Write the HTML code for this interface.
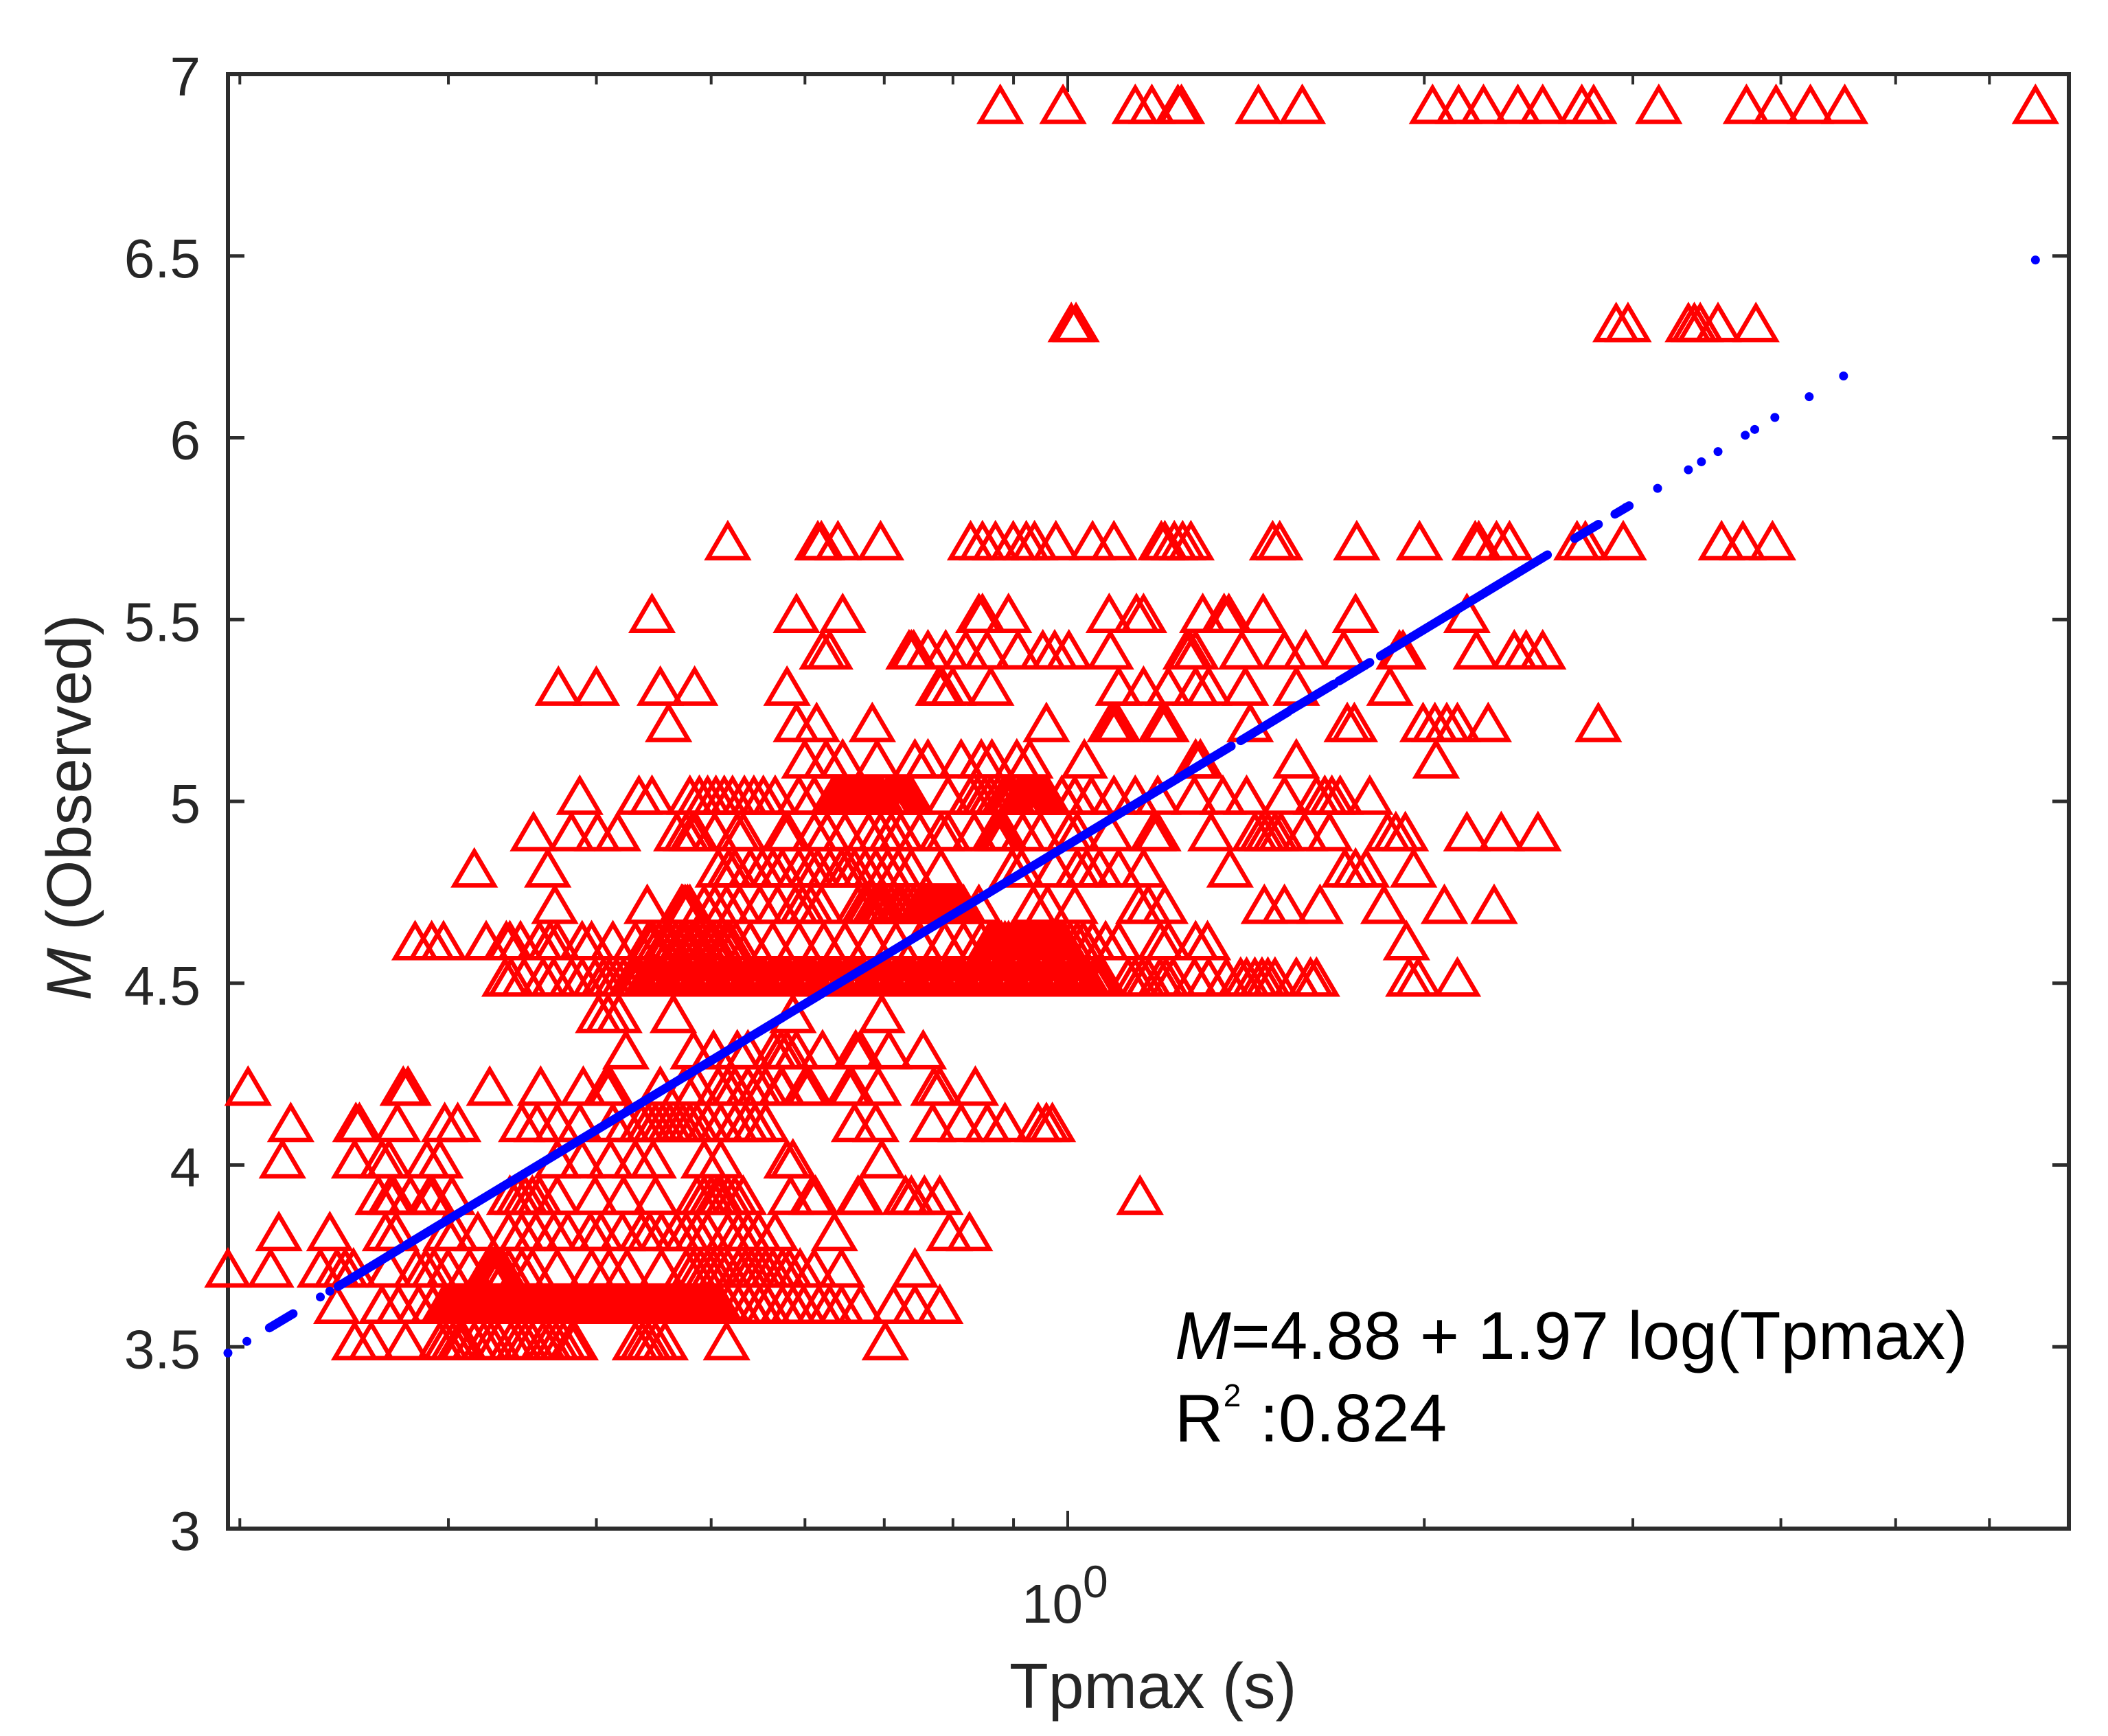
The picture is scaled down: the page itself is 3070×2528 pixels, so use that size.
<!DOCTYPE html>
<html lang="en">
<head>
<meta charset="utf-8">
<title>M observed vs Tpmax</title>
<style>
  html,body{margin:0;padding:0;background:#fff;}
  svg{display:block;}
  text{font-family:"Liberation Sans",Arial,sans-serif;}
</style>
</head>
<body>
<svg id="chart" xmlns="http://www.w3.org/2000/svg" width="3070" height="2528" viewBox="0 0 3070 2528">
  <rect x="0" y="0" width="3070" height="2528" fill="#ffffff"/>
  <g id="axes"></g>
  <g id="observed"></g>
  <g id="fit"></g>
  <text x="1488" y="2363" font-size="80" fill="#262626">10<tspan dy="-37" font-size="66">0</tspan></text>
  <text x="1470" y="2487" font-size="93" fill="#262626">Tpmax (s)</text>
  <text x="132" y="1457" font-size="92" fill="#262626" transform="rotate(-90 132 1457)"><tspan font-style="italic">M</tspan> (Observed)</text>
  <text x="1711" y="1979" font-size="98" fill="#000000"><tspan font-style="italic">M</tspan>=4.88 + 1.97 log(Tpmax)</text>
  <text x="1711" y="2099" font-size="98" fill="#000000">R<tspan dy="-51" font-size="46">2</tspan><tspan dy="51"> :0.824</tspan></text>
</svg>
<script>
// Axis tick values
const yTicks = [3, 3.5, 4, 4.5, 5, 5.5, 6, 6.5, 7];
const yTickLabels = ['3', '3.5', '4', '4.5', '5', '5.5', '6', '6.5', '7'];
const xMinorTicks = [0.2, 0.3, 0.4, 0.5, 0.6, 0.7, 0.8, 0.9, 2, 3, 4, 5, 6];
const xMajorTicks = [1];

// Observed magnitudes; each has a matching list of log10(Tpmax) readings
const row69 = [-.057,-.004,.057,.071,.093,.096,.161,.198,.308,.330,.351,.380,.401,.434,.444,.499,.573,.598,.627,.656,.817];
const row63 = [.003,.007,.463,.473,.524,.529,.534,.549,.581];
const row57 = [-.287,-.211,-.208,-.194,-.158,-.082,-.072,-.061,-.046,-.035,-.028,-.010,.021,.039,.079,.082,.090,.097,.104,.173,.179,.244,.297,.344,.347,.362,.373,.430,.437,.469,.552,.570,.595];
const row55 = [-.351,-.229,-.190,-.075,-.072,-.050,.035,.058,.064,.114,.132,.136,.165,.243,.337];
const row54 = [-.207,-.201,-.134,-.132,-.130,-.118,-.103,-.086,-.068,-.042,-.021,-.011,.001,.036,.100,.103,.108,.147,.183,.201,.233,.280,.283,.345,.377,.387,.401];
const row53 = [-.430,-.398,-.344,-.315,-.237,-.109,-.106,-.097,-.065,.043,.064,.085,.108,.119,.150,.193,.272];
const row52 = [-.337,-.229,-.212,-.165,-.018,.036,.039,.042,.079,.083,.154,.236,.242,.300,.310,.320,.329,.355,.448];
const row51 = [-.222,-.204,-.190,-.161,-.129,-.118,-.090,-.073,-.064,-.043,-.032,.014,.108,.112,.193,.311];
const row50 = [-.412,-.362,-.351,-.319,-.311,-.304,-.297,-.290,-.283,-.273,-.265,-.257,-.247,-.227,-.214,-.198,-.194,-.191,-.187,-.183,-.179,-.176,-.172,-.168,-.164,-.160,-.157,-.152,-.148,-.144,-.140,-.136,-.132,-.101,-.082,-.076,-.070,-.065,-.059,-.054,-.050,-.046,-.041,-.037,-.033,-.029,-.025,-.021,-.017,-.005,.006,.020,.039,.057,.076,.107,.131,.151,.183,.210,.217,.223,.230,.255];
const row49 = [-.451,-.419,-.397,-.380,-.330,-.322,-.317,-.314,-.298,-.279,-.274,-.239,-.236,-.214,-.203,-.188,-.168,-.158,-.149,-.141,-.125,-.107,-.101,-.079,-.062,-.059,-.056,-.053,-.038,-.023,.001,.008,.036,.072,.076,.121,.158,.164,.169,.175,.180,.200,.221,.270,.277,.285,.337,.366,.397];
const row48 = [-.501,-.439,-.295,-.286,-.281,-.268,-.258,-.249,-.241,-.227,-.217,-.211,-.201,-.191,-.186,-.180,-.171,-.162,-.152,-.143,-.132,-.107,-.047,-.039,-.011,.008,.016,.027,.043,.064,.137,.234,.243,.252,.292];
const row47 = [-.433,-.355,-.326,-.325,-.323,-.321,-.319,-.307,-.298,-.288,-.277,-.260,-.245,-.230,-.224,-.217,-.208,-.177,-.172,-.168,-.163,-.161,-.158,-.154,-.149,-.144,-.140,-.135,-.130,-.125,-.122,-.119,-.116,-.113,-.110,-.107,-.104,-.101,-.098,-.094,-.091,-.088,-.075,-.029,-.017,.006,.060,.068,.082,.166,.183,.213,.267,.318,.360];
const row46 = [-.551,-.537,-.527,-.491,-.474,-.471,-.462,-.446,-.437,-.431,-.410,-.402,-.384,-.365,-.354,-.350,-.345,-.340,-.336,-.331,-.326,-.322,-.317,-.313,-.308,-.303,-.299,-.294,-.289,-.285,-.280,-.268,-.249,-.227,-.206,-.188,-.166,-.145,-.125,-.104,-.088,-.073,-.066,-.062,-.059,-.056,-.053,-.050,-.047,-.044,-.040,-.036,-.032,-.028,-.024,-.020,-.017,-.014,-.011,-.008,-.006,-.003,.002,.008,.013,.021,.032,.043,.078,.085,.108,.118,.286];
const row45 = [-.475,-.470,-.459,-.443,-.434,-.419,-.410,-.399,-.392,-.387,-.381,-.375,-.369,-.365,-.361,-.356,-.352,-.348,-.344,-.340,-.335,-.331,-.327,-.323,-.319,-.314,-.310,-.306,-.302,-.298,-.293,-.289,-.285,-.281,-.277,-.272,-.268,-.264,-.260,-.256,-.251,-.247,-.243,-.239,-.235,-.230,-.226,-.222,-.218,-.214,-.209,-.205,-.201,-.197,-.193,-.188,-.184,-.180,-.176,-.172,-.167,-.163,-.159,-.155,-.151,-.146,-.142,-.138,-.134,-.130,-.125,-.121,-.117,-.113,-.109,-.104,-.100,-.096,-.092,-.088,-.083,-.079,-.075,-.071,-.067,-.062,-.058,-.054,-.050,-.046,-.041,-.037,-.033,-.029,-.025,-.020,-.016,-.012,-.008,-.004,.001,.005,.009,.013,.017,.022,.026,.030,.051,.057,.063,.068,.078,.083,.089,.107,.119,.134,.146,.151,.158,.164,.169,.175,.193,.205,.210,.288,.296,.329];
const row44 = [-.396,-.388,-.379,-.333,-.232,-.157];
const row43 = [-.373,-.316,-.299,-.279,-.270,-.248,-.242,-.237,-.229,-.207,-.179,-.175,-.151,-.122];
const row42 = [-.692,-.561,-.557,-.488,-.445,-.409,-.390,-.386,-.344,-.324,-.313,-.295,-.287,-.281,-.270,-.261,-.255,-.242,-.241,-.222,-.218,-.185,-.182,-.160,-.113,-.108,-.078];
const row41 = [-.656,-.601,-.598,-.566,-.526,-.515,-.461,-.448,-.431,-.412,-.384,-.372,-.360,-.354,-.348,-.342,-.336,-.330,-.325,-.319,-.313,-.304,-.293,-.281,-.272,-.264,-.255,-.180,-.162,-.114,-.090,-.068,-.053,-.025,-.018,-.013];
const row40 = [-.663,-.602,-.579,-.573,-.541,-.530,-.431,-.410,-.386,-.365,-.350,-.307,-.293,-.237,-.232,-.157];
const row39 = [-.582,-.572,-.569,-.555,-.539,-.536,-.520,-.471,-.464,-.458,-.452,-.446,-.431,-.399,-.375,-.348,-.313,-.307,-.301,-.296,-.293,-.287,-.281,-.274,-.234,-.216,-.213,-.177,-.175,-.137,-.132,-.121,-.108,.061];
const row38 = [-.666,-.623,-.576,-.567,-.525,-.517,-.498,-.472,-.461,-.449,-.434,-.422,-.403,-.394,-.376,-.360,-.353,-.343,-.330,-.322,-.313,-.304,-.287,-.278,-.270,-.261,-.247,-.197,-.100,-.083];
const row37 = [-.709,-.673,-.631,-.617,-.610,-.603,-.573,-.550,-.542,-.535,-.523,-.505,-.490,-.487,-.483,-.481,-.477,-.472,-.461,-.452,-.431,-.402,-.387,-.372,-.343,-.322,-.316,-.310,-.304,-.299,-.293,-.287,-.278,-.272,-.267,-.261,-.255,-.249,-.241,-.235,-.226,-.214,-.191,-.129];
const row36 = [-.617,-.579,-.565,-.548,-.536,-.527,-.525,-.521,-.517,-.513,-.509,-.505,-.501,-.497,-.493,-.491,-.487,-.483,-.479,-.475,-.471,-.467,-.463,-.459,-.455,-.451,-.447,-.443,-.439,-.435,-.431,-.427,-.423,-.419,-.415,-.411,-.407,-.404,-.402,-.399,-.397,-.394,-.392,-.389,-.387,-.384,-.381,-.378,-.376,-.373,-.370,-.367,-.365,-.362,-.359,-.356,-.354,-.351,-.348,-.345,-.342,-.339,-.337,-.334,-.332,-.329,-.326,-.323,-.320,-.317,-.315,-.312,-.310,-.307,-.304,-.301,-.299,-.296,-.293,-.287,-.278,-.269,-.260,-.253,-.241,-.232,-.223,-.210,-.201,-.191,-.175,-.147,-.129,-.108];
const row35 = [-.602,-.588,-.559,-.530,-.525,-.519,-.514,-.510,-.501,-.493,-.487,-.481,-.470,-.464,-.458,-.452,-.443,-.438,-.432,-.426,-.419,-.416,-.365,-.359,-.354,-.348,-.340,-.288,-.154];

const rowMagnitudes = [6.9, 6.3, 5.7, 5.5, 5.4, 5.3, 5.2, 5.1, 5.0, 4.9, 4.8, 4.7, 4.6, 4.5, 4.4, 4.3, 4.2, 4.1, 4.0, 3.9, 3.8, 3.7, 3.6, 3.5];
const rowLogTpmax = [row69, row63, row57, row55, row54, row53, row52, row51, row50, row49, row48, row47, row46, row45, row44, row43, row42, row41, row40, row39, row38, row37, row36, row35];

// Blue predicted points: isolated dots
const fitDotLogT = [-.709, -.693, -.631, -.623, .471, .498, .524, .535, .549, .572, .580, .597, .626, .655, .817];
const fitDotM = [3.483, 3.515, 3.637, 3.653, 5.808, 5.861, 5.912, 5.934, 5.962, 6.007, 6.023, 6.056, 6.113, 6.170, 6.489];

// Blue predicted points: unbroken stretches where the dots merge
const fitRunStartLogT = [-.674, -.616, -.559, .146, .188, .229, .264, .428, .462];
const fitRunStartM = [3.552, 3.666, 3.779, 5.167, 5.251, 5.331, 5.400, 5.723, 5.790];
const fitRunEndLogT = [-.654, -.563, .138, .186, .225, .255, .405, .448, .474];
const fitRunEndM = [3.591, 3.771, 5.152, 5.246, 5.323, 5.382, 5.678, 5.762, 5.813];

// Axis functions
const NS = 'http://www.w3.org/2000/svg';
const plotLeft = 332, plotRight = 3013, plotTop = 108, plotBottom = 2226;
const axisColor = '#2d2d2d', tickText = '#262626';
function xFromLog(logT) { return 1555 + 1725 * logT; }
function xFromSeconds(t) { return xFromLog(Math.log10(t)); }
function yFromM(m) { return plotBottom - (m - 3) * (plotBottom - plotTop) / 4; }

function axisLine(x1, y1, x2, y2, w) {
  const l = document.createElementNS(NS, 'line');
  l.setAttribute('x1', x1);
  l.setAttribute('y1', y1);
  l.setAttribute('x2', x2);
  l.setAttribute('y2', y2);
  l.setAttribute('stroke', axisColor);
  l.setAttribute('stroke-width', w);
  return l;
}

const axes = document.getElementById('axes');
const observed = document.getElementById('observed');
const fit = document.getElementById('fit');

// Box
[[plotLeft, plotTop, plotLeft, plotBottom], [plotRight, plotTop, plotRight, plotBottom],
 [plotLeft - 3, plotTop, plotRight + 3, plotTop], [plotLeft - 3, plotBottom, plotRight + 3, plotBottom]].forEach(function (c) {
  const l = axisLine(c[0], c[1], c[2], c[3], 6);
  
  
  axes.appendChild(l);
});

// Y ticks and labels
yTicks.forEach(function (v, i) {
  const y = yFromM(v);
  const a = axisLine(plotLeft, y, plotLeft + 24, y, 5);
  
  
  axes.appendChild(a);
  const b = axisLine(plotRight, y, plotRight - 24, y, 5);
  
  
  axes.appendChild(b);
  const t = document.createElementNS(NS, 'text');
  
  
  t.setAttribute('x', 292);
  t.setAttribute('y', y + 31);
  t.setAttribute('text-anchor', 'end');
  t.setAttribute('font-size', 80);
  t.setAttribute('fill', tickText);
  t.textContent = yTickLabels[i];
  axes.appendChild(t);
});

// X ticks
xMinorTicks.forEach(function (v) {
  const x = xFromSeconds(v);
  const a = axisLine(x, plotBottom, x, plotBottom - 15, 4);
  
  
  axes.appendChild(a);
  const b = axisLine(x, plotTop, x, plotTop + 15, 4);
  
  
  axes.appendChild(b);
});
xMajorTicks.forEach(function (v) {
  const x = xFromSeconds(v);
  const a = axisLine(x, plotBottom, x, plotBottom - 26, 4);
  
  
  axes.appendChild(a);
  const b = axisLine(x, plotTop, x, plotTop + 26, 4);
  
  
  axes.appendChild(b);
});

// Observed triangles
rowMagnitudes.forEach(function (m, r) {
  rowLogTpmax[r].forEach(function (logT) {
    const x = xFromLog(logT), y = yFromM(m);
    const p = document.createElementNS(NS, 'path');
    
    
    p.setAttribute('d', 'M' + x + ' ' + (y - 33) + 'L' + (x + 29) + ' ' + (y + 16.5) + 'L' + (x - 29) + ' ' + (y + 16.5) + 'Z');
    p.setAttribute('fill', 'none');
    p.setAttribute('stroke', '#ff0000');
    p.setAttribute('stroke-width', 6.5);
    p.setAttribute('stroke-miterlimit', 10);
    observed.appendChild(p);
  });
});

// Fit stretches
fitRunStartLogT.forEach(function (s, i) {
  const l = document.createElementNS(NS, 'line');
  
  
  l.setAttribute('x1', xFromLog(s));
  l.setAttribute('y1', yFromM(fitRunStartM[i]));
  l.setAttribute('x2', xFromLog(fitRunEndLogT[i]));
  l.setAttribute('y2', yFromM(fitRunEndM[i]));
  l.setAttribute('stroke', '#0000ff');
  l.setAttribute('stroke-width', 13);
  l.setAttribute('stroke-linecap', 'round');
  fit.appendChild(l);
});

// Fit dots
fitDotLogT.forEach(function (lt, i) {
  const c = document.createElementNS(NS, 'circle');
  
  
  c.setAttribute('cx', xFromLog(lt));
  c.setAttribute('cy', yFromM(fitDotM[i]));
  c.setAttribute('r', 6.5);
  c.setAttribute('fill', '#0000ff');
  fit.appendChild(c);
});
</script>
</body>
</html>
